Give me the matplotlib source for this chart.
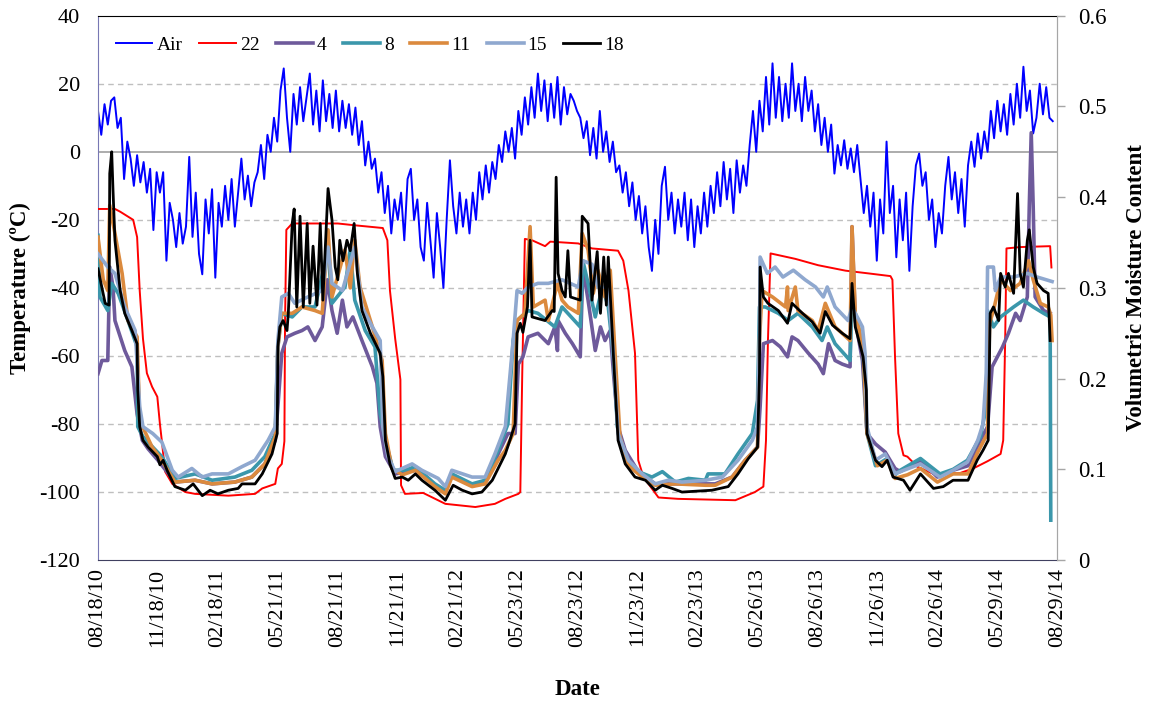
import numpy as np
import matplotlib
matplotlib.use('Agg')
import matplotlib.pyplot as plt
import matplotlib.dates as mdates

plt.rcParams['font.family'] = ['Liberation Serif', 'DejaVu Serif']
plt.rcParams['axes.unicode_minus'] = False

start = np.datetime64('2010-08-18')
end = np.datetime64('2014-08-29')

# air temperature (degC), one reading every 5 days from the start date
air_temp = [12, 5, 14, 8, 15, 16, 7, 10, -8, 3, -2, -10, -1, -9, -3, -12, -5, -23, -6, -12,
            -6, -32, -15, -20, -28, -18, -27, -22, -1.5, -25, -12, -30, -36, -14, -24, -11, -37, -15, -22, -10,
            -20, -8, -22, -12, -2, -14, -7, -16, -9, -6, 2, -8, 5, 0, 10, 3, 18, 24.5, 10, 0,
            17, 8, 19, 9, 16, 23, 8, 18, 6, 21, 9, 17, 7, 18, 6, 15, 7, 14, 5, 13,
            2, 9, -4, 3, -5, -2, -12, -6, -18, -10, -24, -14, -20, -12, -26, -8, -5, -20, -14, -28,
            -32, -15, -26, -37, -18, -28, -40, -20, -2.5, -16, -24, -12, -22, -14, -24, -12, -20, -6, -14, -4,
            -12, -3, -8, 2, -3, 6, 0, 7, -2, 12, 5, 16, 8, 19, 10, 23, 12, 21, 9, 20,
            10, 22, 8, 19, 11, 17, 15, 12, 10, 4, 9, -1, 7, -2, 12, 0, 6, -3, 3, -6,
            -4, -12, -6, -16, -9, -20, -13, -24, -16, -28, -35, -20, -30, -10, -4.4, -20, -12, -24, -14, -22,
            -12, -26, -14, -28, -16, -24, -12, -22, -10, -18, -6, -16, -3, -14, -5, -18, -2.5, -12, -4, -10,
            2, 12, 0, 15, 6, 22, 8, 26, 10, 22, 9, 20, 10, 26, 12, 20, 9, 22, 12, 18,
            6, 14, 2, 10, 0, 8, -6.4, 2, -4, 3.4, -5, 1, -6, 2, -8, -18, -10, -22, -12, -32,
            -14, -24, 3, -18, -10, -31, -14, -26, -12, -35, -16, -4, -0.5, -10, -6, -20, -14, -28, -18, -24,
            -10, -1.5, -14, -6, -18, -8, -22, -4, 3, -4.4, 5.4, -2, 6, 0, 12, 4, 15, 6, 14, 5,
            17, 8, 20, 10, 25, 12, 18, 5.4, 10, 20, 11, 19, 10, 9]

# volumetric moisture content, (days after start, value) per sensor depth
s22_day = [0, 26, 34, 54, 60, 64, 69, 75, 83, 91, 95, 98, 103, 114, 134, 149, 200, 241, 252, 272,
           276, 282, 286, 287, 289, 298, 368, 394, 437, 444, 448, 456, 464, 465, 471, 499, 533, 579, 609, 625,
           645, 648, 651, 655, 666, 686, 694, 737, 758, 798, 806, 814, 824, 829, 837, 860, 890, 978, 1008, 1021,
           1025, 1028, 1032, 1070, 1105, 1147, 1182, 1216, 1219, 1223, 1228, 1236, 1242, 1257, 1282, 1323, 1343, 1365, 1385, 1389,
           1392, 1394, 1415, 1461, 1463]
s22_vmc = [0.387, 0.387, 0.384, 0.375, 0.356, 0.297, 0.244, 0.206, 0.191, 0.18, 0.15, 0.131, 0.0975, 0.084, 0.075, 0.073, 0.071, 0.073, 0.079, 0.084,
           0.101, 0.106, 0.131, 0.2625, 0.364, 0.371, 0.371, 0.369, 0.366, 0.3525, 0.297, 0.244, 0.199, 0.0825, 0.073, 0.074, 0.062, 0.0585, 0.062, 0.0675,
           0.073, 0.075, 0.206, 0.354, 0.3525, 0.346, 0.351, 0.349, 0.3435, 0.341, 0.330, 0.297, 0.228, 0.110, 0.0915, 0.069, 0.0675, 0.066, 0.075, 0.081,
           0.132, 0.242, 0.338, 0.332, 0.325, 0.319, 0.316, 0.313, 0.309, 0.224, 0.1395, 0.1155, 0.114, 0.103, 0.095, 0.096, 0.101, 0.109, 0.117, 0.132,
           0.242, 0.3435, 0.345, 0.346, 0.3225]

s4_day = [0, 6, 15, 18, 23, 26, 41, 52, 60, 68, 77, 92, 118, 149, 175, 210, 236, 256, 272, 276,
          282, 290, 302, 313, 322, 333, 344, 352, 359, 367, 375, 382, 391, 405, 421, 428, 433, 441, 456, 487,
          517, 533, 543, 574, 594, 614, 629, 640, 645, 652, 660, 675, 691, 701, 705, 706, 717, 728, 740, 744,
          752, 763, 771, 778, 786, 791, 798, 809, 829, 855, 886, 932, 947, 973, 993, 1012, 1016, 1021, 1035, 1047,
          1058, 1065, 1074, 1090, 1105, 1113, 1121, 1131, 1142, 1154, 1157, 1162, 1173, 1180, 1193, 1208, 1223, 1231, 1262, 1288,
          1312, 1335, 1354, 1365, 1372, 1380, 1388, 1397, 1408, 1415, 1426, 1429, 1432, 1435, 1438, 1451, 1461]
s4_vmc = [0.2055, 0.220, 0.220, 0.323, 0.301, 0.264, 0.231, 0.213, 0.161, 0.132, 0.1225, 0.110, 0.086, 0.088, 0.084, 0.086, 0.0915, 0.106, 0.132, 0.169,
          0.228, 0.246, 0.25, 0.253, 0.257, 0.242, 0.257, 0.309, 0.275, 0.25, 0.2865, 0.257, 0.268, 0.242, 0.213, 0.195, 0.147, 0.114, 0.095, 0.099,
          0.0825, 0.075, 0.094, 0.0825, 0.086, 0.117, 0.1395, 0.1395, 0.216, 0.224, 0.246, 0.25, 0.2385, 0.257, 0.231, 0.264, 0.25, 0.2385, 0.224, 0.323,
          0.2865, 0.231, 0.257, 0.242, 0.253, 0.2055, 0.147, 0.121, 0.0975, 0.084, 0.084, 0.084, 0.084, 0.0915, 0.110, 0.1245, 0.169, 0.2385, 0.242, 0.235,
          0.224, 0.246, 0.242, 0.228, 0.216, 0.2055, 0.2385, 0.220, 0.216, 0.213, 0.3675, 0.264, 0.220, 0.1395, 0.128, 0.119, 0.101, 0.0975, 0.110, 0.0915,
          0.099, 0.104, 0.132, 0.147, 0.213, 0.224, 0.235, 0.25, 0.272, 0.264, 0.29, 0.39, 0.471, 0.39, 0.29, 0.275, 0.272]

s8_day = [0, 3, 15, 21, 31, 46, 60, 61, 69, 84, 98, 118, 149, 175, 210, 236, 256, 272, 276, 282,
          298, 313, 333, 353, 359, 379, 387, 394, 410, 425, 433, 441, 453, 471, 487, 517, 533, 543, 574, 594,
          614, 629, 637, 643, 660, 675, 701, 712, 740, 744, 752, 763, 774, 783, 791, 797, 809, 829, 850, 866,
          886, 906, 932, 936, 962, 982, 1004, 1012, 1015, 1024, 1044, 1059, 1074, 1096, 1111, 1119, 1131, 1154, 1157, 1167,
          1174, 1180, 1193, 1211, 1223, 1231, 1262, 1292, 1312, 1334, 1354, 1363, 1365, 1374, 1385, 1405, 1420, 1435, 1451, 1461,
          1462]
s8_vmc = [0.358, 0.29, 0.275, 0.305, 0.294, 0.264, 0.235, 0.147, 0.136, 0.1245, 0.114, 0.09, 0.095, 0.088, 0.0915, 0.099, 0.114, 0.1395, 0.235, 0.272,
          0.268, 0.279, 0.279, 0.342, 0.283, 0.301, 0.342, 0.2865, 0.253, 0.235, 0.161, 0.132, 0.099, 0.099, 0.103, 0.084, 0.077, 0.095, 0.084, 0.088,
          0.121, 0.15, 0.242, 0.264, 0.275, 0.272, 0.257, 0.279, 0.257, 0.330, 0.305, 0.268, 0.301, 0.279, 0.224, 0.147, 0.110, 0.0975, 0.0915, 0.0975,
          0.086, 0.09, 0.088, 0.095, 0.095, 0.117, 0.1395, 0.176, 0.279, 0.279, 0.272, 0.264, 0.272, 0.257, 0.242, 0.257, 0.2385, 0.220, 0.2865, 0.257,
          0.228, 0.1395, 0.104, 0.112, 0.094, 0.099, 0.112, 0.095, 0.10, 0.110, 0.136, 0.169, 0.275, 0.257, 0.268, 0.279, 0.2865, 0.279, 0.272, 0.268,
          0.044]

s11_day = [0, 8, 15, 18, 26, 37, 46, 60, 64, 83, 98, 118, 149, 175, 210, 236, 256, 272, 276, 282,
           298, 313, 333, 344, 353, 359, 379, 387, 394, 402, 421, 436, 441, 451, 467, 487, 517, 533, 543, 574,
           594, 614, 625, 637, 643, 655, 663, 668, 686, 691, 705, 712, 721, 737, 743, 752, 760, 767, 778, 786,
           794, 801, 814, 835, 855, 886, 932, 947, 973, 993, 1012, 1015, 1019, 1035, 1055, 1058, 1059, 1070, 1074, 1096,
           1105, 1116, 1131, 1154, 1157, 1162, 1174, 1180, 1196, 1211, 1223, 1242, 1262, 1288, 1312, 1335, 1350, 1365, 1368, 1374,
           1385, 1400, 1415, 1428, 1435, 1446, 1458, 1462, 1464]
s11_vmc = [0.356, 0.309, 0.297, 0.391, 0.36, 0.316, 0.264, 0.246, 0.154, 0.1245, 0.110, 0.086, 0.088, 0.084, 0.086, 0.0915, 0.106, 0.136, 0.235, 0.272,
           0.272, 0.279, 0.275, 0.272, 0.364, 0.29, 0.342, 0.30, 0.3525, 0.301, 0.257, 0.220, 0.1395, 0.101, 0.094, 0.099, 0.081, 0.073, 0.0915, 0.081,
           0.084, 0.110, 0.121, 0.1395, 0.264, 0.272, 0.3675, 0.279, 0.2865, 0.264, 0.305, 0.2865, 0.279, 0.272, 0.36, 0.342, 0.294, 0.3195, 0.29, 0.3195,
           0.220, 0.136, 0.104, 0.0915, 0.0825, 0.084, 0.0825, 0.0825, 0.0915, 0.110, 0.1245, 0.242, 0.297, 0.29, 0.279, 0.301, 0.275, 0.301, 0.275, 0.264,
           0.253, 0.283, 0.257, 0.242, 0.3675, 0.272, 0.235, 0.1395, 0.104, 0.110, 0.09, 0.094, 0.101, 0.086, 0.095, 0.095, 0.119, 0.1395, 0.261, 0.275,
           0.309, 0.297, 0.305, 0.330, 0.309, 0.283, 0.279, 0.27, 0.242]

s15_day = [0, 15, 26, 41, 57, 64, 69, 84, 98, 114, 123, 144, 160, 175, 200, 221, 241, 261, 272, 276,
           282, 292, 302, 322, 344, 353, 359, 375, 394, 405, 421, 433, 437, 445, 456, 482, 497, 522, 533, 543,
           574, 594, 609, 625, 637, 643, 651, 660, 675, 691, 712, 737, 744, 758, 767, 783, 791, 798, 814, 835,
           855, 875, 896, 932, 958, 982, 1004, 1012, 1015, 1016, 1027, 1039, 1051, 1067, 1085, 1101, 1113, 1119, 1131, 1151,
           1157, 1173, 1177, 1180, 1193, 1208, 1223, 1231, 1262, 1292, 1312, 1334, 1350, 1358, 1363, 1365, 1374, 1377, 1385, 1405,
           1426, 1441, 1464]
s15_vmc = [0.3375, 0.323, 0.316, 0.279, 0.253, 0.169, 0.147, 0.1395, 0.130, 0.099, 0.0915, 0.101, 0.0915, 0.095, 0.095, 0.103, 0.110, 0.132, 0.147, 0.242,
           0.29, 0.294, 0.283, 0.29, 0.297, 0.345, 0.305, 0.297, 0.345, 0.279, 0.257, 0.242, 0.147, 0.114, 0.0975, 0.106, 0.099, 0.09, 0.081, 0.099,
           0.0915, 0.0915, 0.117, 0.147, 0.242, 0.297, 0.294, 0.301, 0.305, 0.305, 0.309, 0.301, 0.330, 0.326, 0.301, 0.301, 0.224, 0.1395, 0.110, 0.095,
           0.084, 0.088, 0.086, 0.088, 0.0915, 0.110, 0.132, 0.147, 0.242, 0.334, 0.316, 0.323, 0.312, 0.3195, 0.309, 0.301, 0.29, 0.301, 0.279, 0.264,
           0.279, 0.257, 0.228, 0.147, 0.110, 0.117, 0.095, 0.0975, 0.106, 0.0915, 0.099, 0.108, 0.132, 0.15, 0.206, 0.323, 0.323, 0.297, 0.312, 0.312,
           0.316, 0.312, 0.307]

s18_day = [0, 11, 17, 18, 21, 23, 26, 34, 41, 52, 60, 61, 64, 69, 77, 91, 95, 100, 106, 118,
           134, 146, 160, 172, 184, 200, 215, 221, 241, 252, 267, 275, 276, 279, 284, 290, 292, 298, 301, 305,
           310, 315, 321, 325, 330, 336, 341, 345, 353, 359, 364, 368, 371, 376, 382, 387, 393, 398, 405, 418,
           433, 437, 441, 448, 456, 467, 476, 487, 497, 517, 533, 545, 559, 574, 589, 605, 625, 632, 640, 643,
           648, 652, 659, 663, 666, 686, 697, 700, 703, 706, 712, 717, 721, 725, 740, 743, 752, 758, 766, 771,
           776, 780, 783, 791, 798, 809, 824, 840, 855, 866, 881, 896, 942, 967, 982, 998, 1012, 1015, 1016, 1021,
           1028, 1044, 1058, 1065, 1081, 1096, 1108, 1116, 1127, 1142, 1154, 1157, 1162, 1174, 1179, 1180, 1193, 1203, 1211, 1220,
           1236, 1246, 1262, 1282, 1297, 1312, 1335, 1349, 1358, 1366, 1369, 1374, 1382, 1385, 1392, 1397, 1405, 1411, 1415, 1420,
           1426, 1429, 1435, 1441, 1451, 1458, 1461]
s18_vmc = [0.321, 0.283, 0.281, 0.426, 0.45, 0.408, 0.3525, 0.297, 0.272, 0.253, 0.2385, 0.1875, 0.147, 0.132, 0.1245, 0.114, 0.105, 0.110, 0.099, 0.081,
           0.077, 0.084, 0.071, 0.077, 0.073, 0.077, 0.079, 0.084, 0.084, 0.095, 0.117, 0.1395, 0.235, 0.257, 0.264, 0.253, 0.272, 0.371, 0.387, 0.279,
           0.379, 0.279, 0.371, 0.283, 0.346, 0.281, 0.371, 0.2865, 0.4095, 0.375, 0.323, 0.309, 0.3525, 0.330, 0.3525, 0.341, 0.371, 0.316, 0.275, 0.25,
           0.228, 0.2025, 0.132, 0.106, 0.09, 0.0915, 0.088, 0.095, 0.088, 0.077, 0.066, 0.0825, 0.077, 0.073, 0.075, 0.088, 0.117, 0.132, 0.15, 0.25,
           0.261, 0.251, 0.279, 0.3525, 0.268, 0.264, 0.275, 0.274, 0.422, 0.316, 0.297, 0.29, 0.341, 0.29, 0.2865, 0.379, 0.371, 0.2865, 0.34, 0.272,
           0.334, 0.281, 0.334, 0.224, 0.132, 0.106, 0.0915, 0.088, 0.077, 0.0825, 0.079, 0.075, 0.077, 0.081, 0.095, 0.112, 0.1245, 0.206, 0.323, 0.29,
           0.283, 0.275, 0.261, 0.283, 0.272, 0.2625, 0.25, 0.274, 0.259, 0.25, 0.244, 0.305, 0.257, 0.224, 0.1875, 0.1395, 0.110, 0.103, 0.110, 0.0915,
           0.088, 0.077, 0.095, 0.079, 0.081, 0.088, 0.088, 0.110, 0.121, 0.132, 0.272, 0.279, 0.264, 0.316, 0.301, 0.316, 0.294, 0.404, 0.316, 0.301,
           0.3525, 0.364, 0.323, 0.305, 0.297, 0.294, 0.242]


def to_dates(days):
    return start + np.array(days).astype('timedelta64[D]')


air_dates = start + (np.arange(len(air_temp)) * 5).astype('timedelta64[D]')

fig = plt.figure(figsize=(11.53, 7.01), dpi=100)
ax = fig.add_axes([0.085, 0.201, 0.832, 0.7766])
ax2 = ax.twinx()

#Air temperature on the left axis
air_line, = ax.plot(air_dates, air_temp, color='#0000FF', lw=1.4, label='Air')

#Moisture sensors on the right axis
series = [('22', s22_day, s22_vmc, '#FF0000', 1.4),
          ('4', s4_day, s4_vmc, '#6E5A9B', 2.6),
          ('8', s8_day, s8_vmc, '#3B97AB', 2.6),
          ('11', s11_day, s11_vmc, '#DB8A3E', 2.6),
          ('15', s15_day, s15_vmc, '#8FA8CF', 2.6),
          ('18', s18_day, s18_vmc, '#000000', 2.0)]
handles = [air_line]
for name, d, v, col, lw in series:
    h, = ax2.plot(to_dates(d), v, color=col, lw=lw, label=name, solid_joinstyle='round')
    handles.append(h)

ax.set_xlim(start, end)
ax.set_ylim(-120, 40)
ax.set_yticks(range(-120, 41, 20))
ax2.set_ylim(0, 0.6)
ax2.set_yticks([0, 0.1, 0.2, 0.3, 0.4, 0.5, 0.6])
ax2.set_yticklabels(['0', '0.1', '0.2', '0.3', '0.4', '0.5', '0.6'])

#gridlines: dashed, zero line solid
for t in [-100, -80, -60, -40, -20, 20]:
    ax.axhline(t, color='#BFBFBF', lw=1, ls=(0, (4, 3)), zorder=0)
ax.axhline(0, color='#A6A6A6', lw=1.3, zorder=0)

xt = start + (np.arange(17) * 92).astype('timedelta64[D]')
ax.set_xticks(xt)
ax.xaxis.set_major_formatter(mdates.DateFormatter('%m/%d/%y'))
ax.tick_params(axis='x', length=0, pad=6, labelsize=16, labelrotation=90)
ax.tick_params(axis='y', length=0, pad=13, labelsize=16)
ax2.tick_params(axis='y', length=6, width=1, color='#A6A6A6', pad=9, labelsize=16.5)

ax.spines['top'].set_color('black')
ax.spines['left'].set_color('#7878B4')
ax.spines['bottom'].set_color('#404060')
ax.spines['right'].set_color('#A6A6A6')
for s in ax2.spines.values():
    s.set_visible(False)
ax2.spines['right'].set_visible(True)
ax2.spines['right'].set_color('#A6A6A6')

ax.set_ylabel('Temperature (ºC)', fontsize=16.5, fontweight='bold', labelpad=6)
ax2.set_ylabel('Volumetric Moisture Content', fontsize=16.5, fontweight='bold', labelpad=14)
ax.set_xlabel('Date', fontsize=16.5, fontweight='bold', labelpad=23)

ax2.legend(handles=handles, loc='center left', bbox_to_anchor=(0.0, 0.946), ncol=7,
           frameon=False, fontsize=14, handlelength=1.9, handletextpad=0.2, columnspacing=0.85)

fig.savefig('out.png', dpi=100)
